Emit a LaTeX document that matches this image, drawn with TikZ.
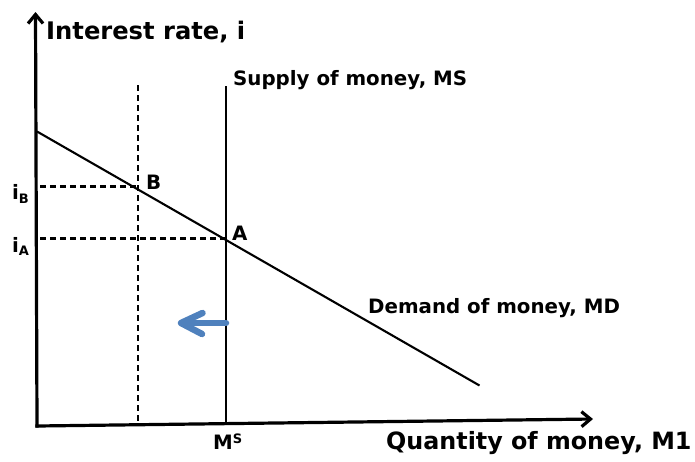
\documentclass[tikz,border=0pt]{standalone}
\usepackage{fontspec}
\setmainfont{DejaVu Sans}
\usetikzlibrary{arrows.meta}
\definecolor{arrblue}{RGB}{79,129,189}
\begin{document}
\begin{tikzpicture}[x=1pt,y=-1pt,
 axis/.style={line width=3.2pt, line cap=rect, -{Straight Barb[length=9pt,width=15pt,line cap=butt]}},
 curve/.style={line width=2.1pt},
 guide/.style={line width=2.1pt, dash pattern=on 6pt off 4pt},
 bluearrow/.style={arrblue, line width=6.5pt, line cap=round, line join=round},
 lab/.style={inner sep=0pt, anchor=base west, font=\fontsize{19.8}{20}\selectfont\bfseries},
 biglab/.style={inner sep=0pt, anchor=base west, font=\fontsize{24.2}{25}\selectfont\bfseries}
]
\useasboundingbox (0,0) rectangle (695,461);
% key points
\coordinate (O) at (37,426);
\coordinate (Ytop) at (35.5,12);
\coordinate (Xend) at (593,419);
\coordinate (Dstart) at (37,131.5);
\coordinate (Dend) at (479.5,385.5);
\coordinate (Stop) at (226,86);
\coordinate (Sbot) at (226,423.6);
\coordinate (Btop) at (138,85);
\coordinate (Bbot) at (138,424.7);
\coordinate (iBl) at (40,186.5);
\coordinate (Bpt) at (138,186.5);
\coordinate (iAl) at (40,238.5);
\coordinate (Apt) at (226,238.5);
\coordinate (arrS) at (226,323);
\coordinate (arrE) at (181,323);
% guides
\draw[guide] (Btop) -- (Bbot);
\draw[guide] (iBl) -- (Bpt);
\draw[guide] (iAl) -- (Apt);
% supply and demand
\draw[curve] (Stop) -- (Sbot);
\draw[curve] (Dstart) -- (Dend);
% axes
\draw[axis] (O) -- (Ytop);
\draw[axis] (O) -- (Xend);
% blue shift arrow
\draw[bluearrow] (arrS) -- (arrE);
\draw[bluearrow] ([shift={(21.5,-10)}]arrE) -- (arrE) -- ([shift={(21,11)}]arrE);
% labels
\node[biglab] (ylab) at (46,39) {Interest rate, i};
\node[biglab, font=\fontsize{23.8}{25}\selectfont\bfseries] (xlab) at (386,449) {Quantity of money, M1};
\node[lab] (ms) at (233,85) {Supply of money, MS};
\node[lab] (md) at (368,313) {Demand of money, MD};
\node[lab] (lB) at (146,189) {B};
\node[lab] (lA) at (232,240) {A};
\node[lab] (iB) at (12,199) {i\raisebox{-4.5pt}{\fontsize{13}{13}\selectfont B}};
\node[lab] (iA) at (12,252) {i\raisebox{-3.5pt}{\fontsize{13}{13}\selectfont A}};
\node[lab] (msx) at (213,449) {M\raisebox{6pt}{\fontsize{13}{13}\selectfont S}};
\end{tikzpicture}
\end{document}
